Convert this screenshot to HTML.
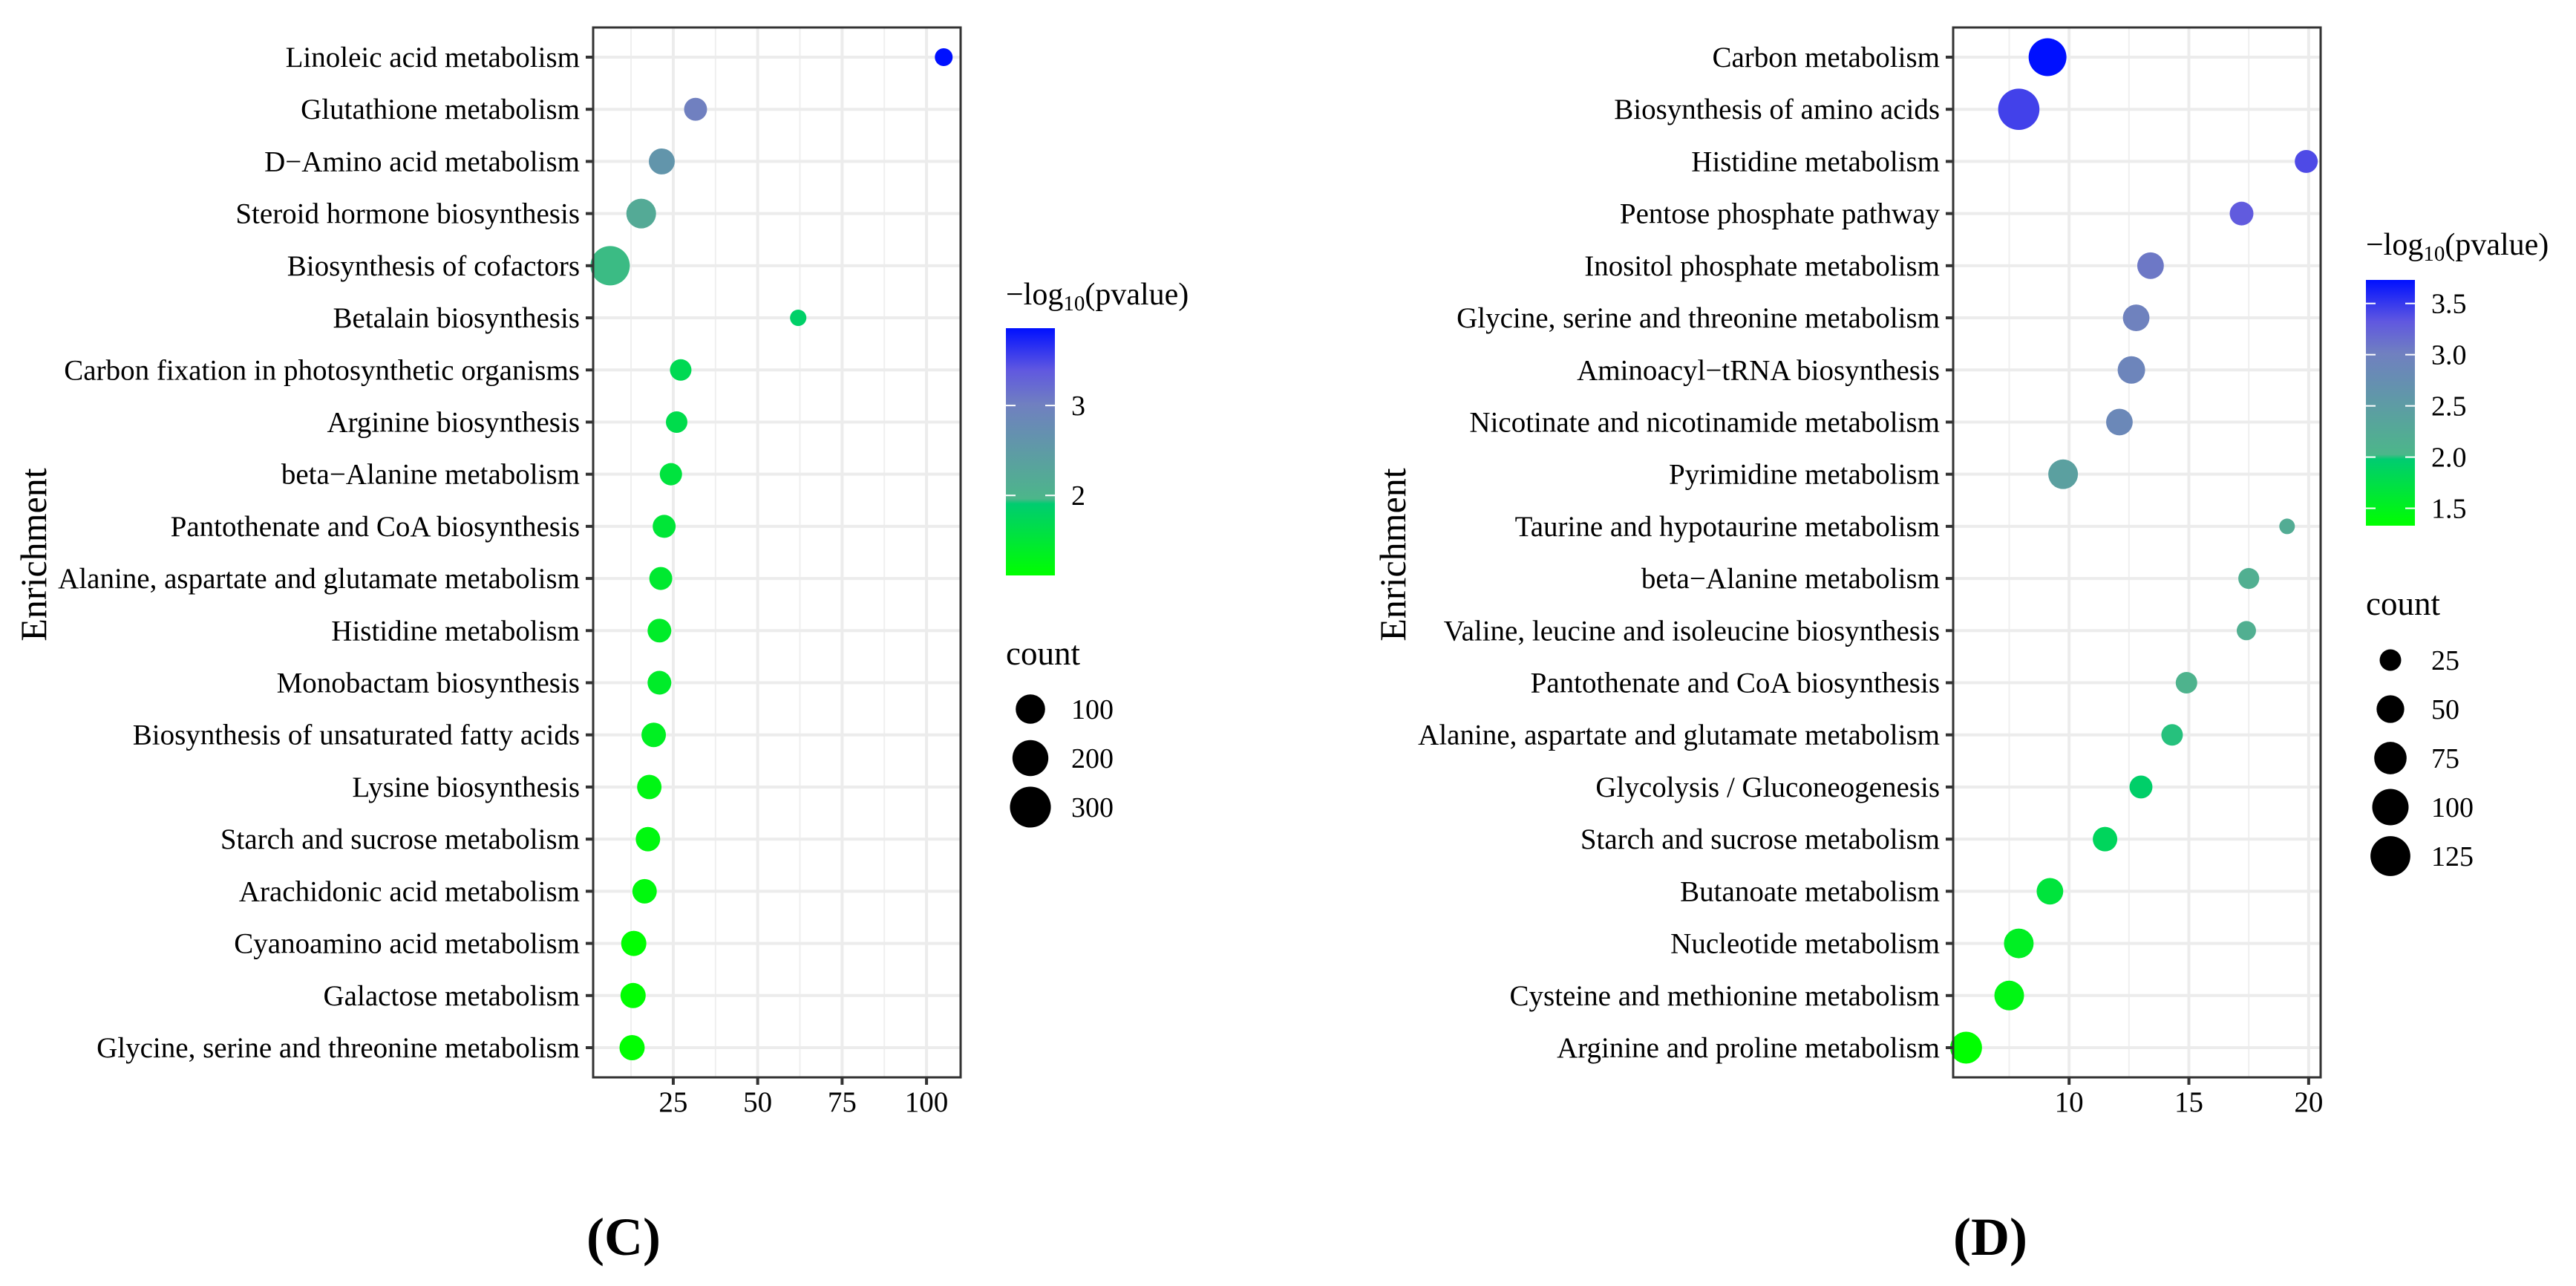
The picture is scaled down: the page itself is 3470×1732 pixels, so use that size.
<!DOCTYPE html>
<html><head><meta charset="utf-8"><style>
html,body{margin:0;padding:0;background:#fff}
svg{display:block;font-family:"Liberation Serif","DejaVu Serif",serif}
</style></head><body>
<svg id="fig" width="3470" height="1732" viewBox="0 0 3470 1732" xmlns="http://www.w3.org/2000/svg">
<defs>
<linearGradient id="gradC" x1="0" y1="1" x2="0" y2="0">
<stop offset="0" stop-color="#00ff00"/><stop offset="0.29" stop-color="#00cc70"/><stop offset="0.31" stop-color="#4cb68a"/><stop offset="0.69" stop-color="#7080c0"/><stop offset="0.83" stop-color="#6058e0"/><stop offset="1" stop-color="#0010ff"/>
</linearGradient>
<linearGradient id="gradD" x1="0" y1="1" x2="0" y2="0">
<stop offset="0" stop-color="#00ff00"/><stop offset="0.27" stop-color="#00cc70"/><stop offset="0.29" stop-color="#4cb68a"/><stop offset="0.70" stop-color="#7080c0"/><stop offset="0.83" stop-color="#6058e0"/><stop offset="1" stop-color="#0010ff"/>
</linearGradient>
</defs>
<g id="panelC"></g>
<g id="panelD"></g>
<text x="840" y="1690" font-size="72" font-weight="bold" text-anchor="middle">(C)</text>
<text x="2681" y="1690" font-size="72" font-weight="bold" text-anchor="middle">(D)</text>
</svg>
<script>
const cCategories = ["Linoleic acid metabolism","Glutathione metabolism","D\u2212Amino acid metabolism","Steroid hormone biosynthesis","Biosynthesis of cofactors","Betalain biosynthesis","Carbon fixation in photosynthetic organisms","Arginine biosynthesis","beta\u2212Alanine metabolism","Pantothenate and CoA biosynthesis","Alanine, aspartate and glutamate metabolism","Histidine metabolism","Monobactam biosynthesis","Biosynthesis of unsaturated fatty acids","Lysine biosynthesis","Starch and sucrose metabolism","Arachidonic acid metabolism","Cyanoamino acid metabolism","Galactose metabolism","Glycine, serine and threonine metabolism"];
const cEnrichment = [105.1,31.6,21.6,15.5,6.3,62,27.2,26,24.3,22.3,21.3,20.9,20.9,19.2,17.9,17.5,16.5,13.3,13.1,12.8];
const cCount = [7,35,61,104,266,3,25,25,30,35,35,41,41,47,47,47,47,54,54,54];
const cPvalue = [3.86,3.0,2.6,2.2,1.95,1.85,1.7,1.65,1.55,1.5,1.45,1.4,1.4,1.35,1.25,1.22,1.2,1.12,1.12,1.12];
const cXTicks = [25,50,75,100];
const cColorTicks = [2,3];
const cSizeBreaks = [100,200,300];

const dCategories = ["Carbon metabolism","Biosynthesis of amino acids","Histidine metabolism","Pentose phosphate pathway","Inositol phosphate metabolism","Glycine, serine and threonine metabolism","Aminoacyl\u2212tRNA biosynthesis","Nicotinate and nicotinamide metabolism","Pyrimidine metabolism","Taurine and hypotaurine metabolism","beta\u2212Alanine metabolism","Valine, leucine and isoleucine biosynthesis","Pantothenate and CoA biosynthesis","Alanine, aspartate and glutamate metabolism","Glycolysis / Gluconeogenesis","Starch and sucrose metabolism","Butanoate metabolism","Nucleotide metabolism","Cysteine and methionine metabolism","Arginine and proline metabolism"];
const dEnrichment = [9.1,7.9,19.9,17.2,13.4,12.8,12.6,12.1,9.75,19.1,17.5,17.4,14.9,14.3,13.0,11.5,9.2,7.9,7.5,5.7];
const dCount = [110,136,30,33,45,45,49,45,60,9,23,18,25,25,30,36,45,60,60,72];
const dPvalue = [3.73,3.45,3.4,3.3,3.05,2.95,2.9,2.85,2.45,2.25,2.2,2.2,2.12,2.05,1.98,1.9,1.7,1.55,1.45,1.33];
const dXTicks = [10,15,20];
const dColorTicks = [1.5,2.0,2.5,3.0,3.5];
const dColorTickLabels = ["1.5","2.0","2.5","3.0","3.5"];
const dSizeBreaks = [25,50,75,100,125];

const NS = "http://www.w3.org/2000/svg";
function mk(parent, tag, attrs, text){
  const e = document.createElementNS(NS, tag);
  for (const k in attrs) e.setAttribute(k, attrs[k]);
  if (text !== undefined) e.textContent = text;
  parent.appendChild(e);
  return e;
}
function hex(c){return [parseInt(c.slice(1,3),16),parseInt(c.slice(3,5),16),parseInt(c.slice(5,7),16)];}
function colorAt(stops, f){
  f = Math.max(0, Math.min(1, f));
  for (let i=1;i<stops.length;i++){
    if (f <= stops[i][0]){
      const a=stops[i-1], b=stops[i], t=(f-a[0])/(b[0]-a[0]||1);
      const ca=hex(a[1]), cb=hex(b[1]);
      return "rgb("+ca.map((v,j)=>Math.round(v+(cb[j]-v)*t)).join(",")+")";
    }
  }
  return stops[stops.length-1][1];
}

function drawPanel(cfg){
  const g = document.getElementById(cfg.id);
  const L=cfg.left, R=cfg.right, T=37, B=1451, y0=77, y1=1411;
  const xs = v => L + (v - cfg.xmin) / (cfg.xmax - cfg.xmin) * (R - L);
  const ys = i => y0 + i * (y1 - y0) / (cfg.cats.length - 1);
  const rs = c => cfg.r0 + cfg.rk * Math.sqrt(c);
  const cf = p => (p - cfg.plo) / (cfg.phi - cfg.plo);
  const bg = mk(g,"rect",{x:L,y:T,width:R-L,height:B-T,fill:"#fff"});
  
  
  cfg.minor.forEach(v=>{
    const l = mk(g,"line",{x1:xs(v),x2:xs(v),y1:T,y2:B,stroke:"#efefef","stroke-width":2});
    
    
  });
  cfg.xticks.forEach(v=>{
    const l = mk(g,"line",{x1:xs(v),x2:xs(v),y1:T,y2:B,stroke:"#ececec","stroke-width":4});
    
    
  });
  cfg.cats.forEach((c,i)=>{
    const l = mk(g,"line",{x1:L,x2:R,y1:ys(i),y2:ys(i),stroke:"#ececec","stroke-width":4});
    
    
  });
  cfg.cats.forEach((c,i)=>{
    const p = mk(g,"circle",{cx:xs(cfg.x[i]),cy:ys(i),r:rs(cfg.count[i]),fill:colorAt(cfg.stops,cf(cfg.p[i]))});
    
    
  });
  const fr = mk(g,"rect",{x:L,y:T,width:R-L,height:B-T,fill:"none",stroke:"#333","stroke-width":3});
  
  
  cfg.cats.forEach((c,i)=>{
    const tk = mk(g,"line",{x1:L-10,x2:L,y1:ys(i),y2:ys(i),stroke:"#333","stroke-width":4});
    
    
    const t = mk(g,"text",{x:L-18,y:ys(i)+13,"font-size":39,"text-anchor":"end",fill:"#000"},c);
    
    
  });
  cfg.xticks.forEach(v=>{
    const tk = mk(g,"line",{x1:xs(v),x2:xs(v),y1:B,y2:B+10,stroke:"#333","stroke-width":4});
    
    
    const t = mk(g,"text",{x:xs(v),y:1497,"font-size":39,"text-anchor":"middle"},String(v));
    
    
  });
  const yt = mk(g,"text",{x:0,y:0,"font-size":50,"text-anchor":"middle",transform:"translate("+cfg.ytx+",747) rotate(-90)"},"Enrichment");
  
  
  const lg = cfg.leg;
  const tt = mk(g,"text",{x:lg.x,y:lg.titleY,"font-size":42});
  
  
  mk(tt,"tspan",{},"\u2212log");
  mk(tt,"tspan",{"font-size":29,dy:8},"10");
  mk(tt,"tspan",{dy:-8},"(pvalue)");
  const bar = mk(g,"rect",{x:lg.x,y:lg.top,width:66,height:lg.bot-lg.top,fill:"url(#"+cfg.grad+")"});
  
  
  const cy = v => lg.bot - (v - cfg.plo)/(cfg.phi-cfg.plo)*(lg.bot-lg.top);
  cfg.cticks.forEach((v,i)=>{
    mk(g,"line",{x1:lg.x,x2:lg.x+13,y1:cy(v),y2:cy(v),stroke:"#fff","stroke-width":2});
    mk(g,"line",{x1:lg.x+53,x2:lg.x+66,y1:cy(v),y2:cy(v),stroke:"#fff","stroke-width":2});
    const t = mk(g,"text",{x:lg.x+88,y:cy(v)+13,"font-size":38},cfg.clabels[i]);
    
    
  });
  const ct = mk(g,"text",{x:lg.x,y:lg.countY,"font-size":45},"count");
  
  
  cfg.sizes.forEach((s,i)=>{
    const yy = lg.sizeY0 + i*lg.sizeDy;
    const d = mk(g,"circle",{cx:lg.x+33,cy:yy,r:rs(s),fill:"#000"});
    
    
    const t = mk(g,"text",{x:lg.x+88,y:yy+13,"font-size":38},String(s));
    
    
  });
}
const stops = [[0,"#00ff00"],[0.29,"#00cc70"],[0.31,"#4cb68a"],[0.69,"#7080c0"],[0.83,"#6058e0"],[1,"#0010ff"]];
drawPanel({id:"panelC",left:799,right:1294,xmin:1.27,xmax:110.1,cats:cCategories,x:cEnrichment,count:cCount,p:cPvalue,
  xticks:cXTicks,minor:[12.5,37.5,62.5,87.5],r0:9.2,rk:1.06,plo:1.11,phi:3.86,stops:stops,grad:"gradC",ytx:62,
  cticks:cColorTicks,clabels:cColorTicks.map(String),sizes:cSizeBreaks,
  leg:{x:1355,titleY:410,top:442,bot:775,countY:895,sizeY0:955,sizeDy:66}});
drawPanel({id:"panelD",left:2631,right:3126,xmin:5.16,xmax:20.5,cats:dCategories,x:dEnrichment,count:dCount,p:dPvalue,
  xticks:dXTicks,minor:[7.5,12.5,17.5],r0:4.5,rk:2.0,plo:1.33,phi:3.73,stops:stops,grad:"gradD",ytx:1893,
  cticks:dColorTicks,clabels:dColorTickLabels,sizes:dSizeBreaks,
  leg:{x:3187,titleY:343,top:377,bot:708,countY:828,sizeY0:889,sizeDy:66}});
</script>
</body></html>
